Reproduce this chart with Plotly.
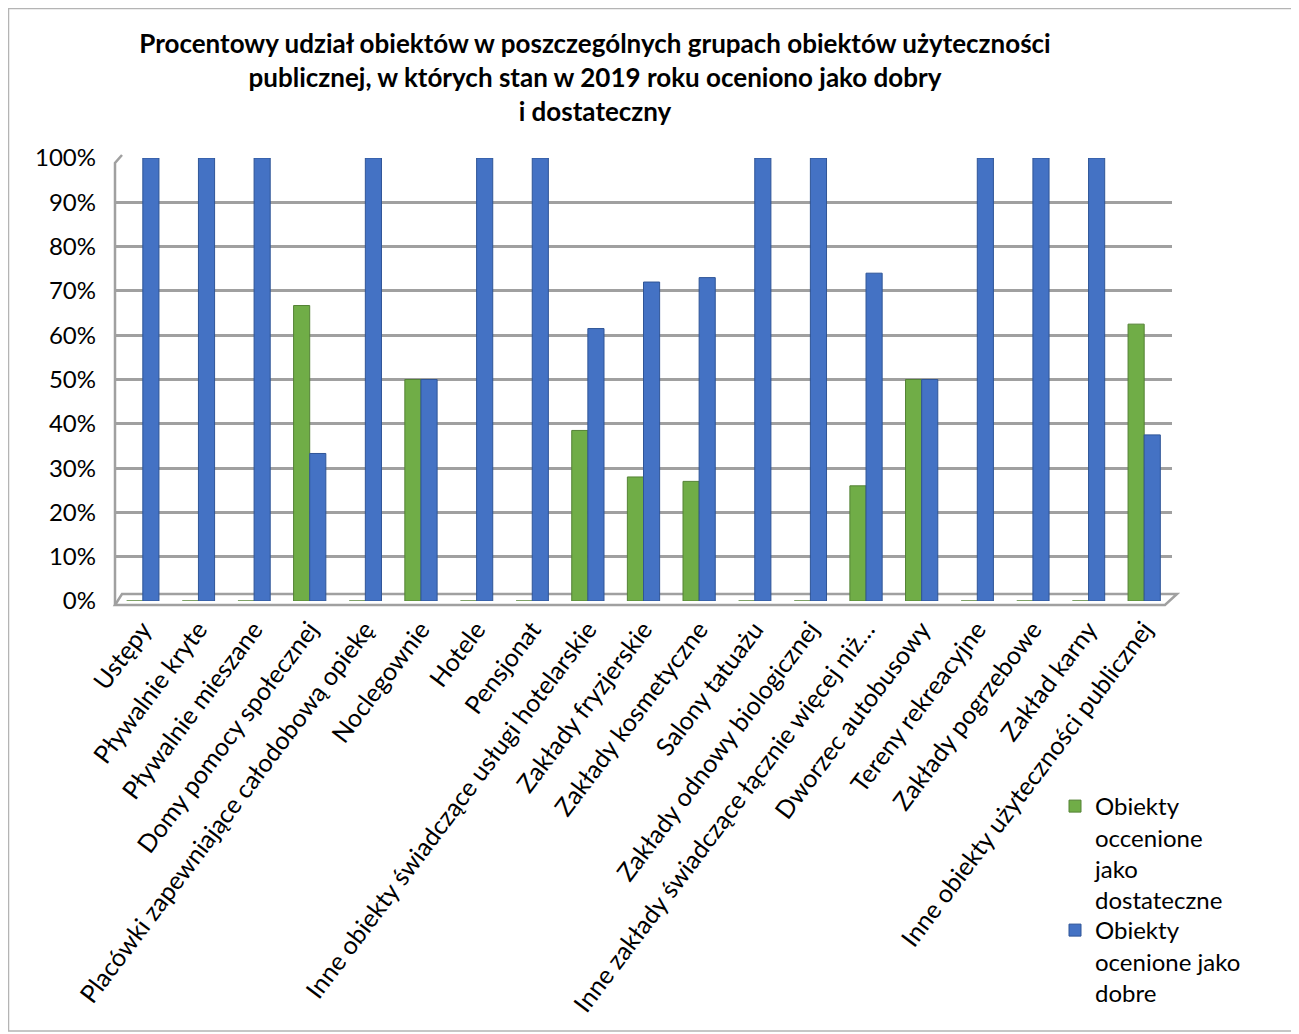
import plotly.graph_objects as go

categories = [
    "Ustępy", "Pływalnie kryte", "Pływalnie mieszane", "Domy pomocy społecznej",
    "Placówki zapewniające całodobową opiekę", "Noclegownie", "Hotele", "Pensjonat",
    "Inne obiekty świadczące usługi hotelarskie", "Zakłady fryzjerskie",
    "Zakłady kosmetyczne", "Salony tatuażu", "Zakłady odnowy biologicznej",
    "Inne zakłady świadczące łącznie więcej niż…", "Dworzec autobusowy",
    "Tereny rekreacyjne", "Zakłady pogrzebowe", "Zakład karny",
    "Inne obiekty użyteczności publicznej",
]
dostateczne = [0, 0, 0, 66.7, 0, 50, 0, 0, 38.5, 28, 27, 0, 0, 26, 50, 0, 0, 0, 62.5]
dobre = [100, 100, 100, 33.3, 100, 50, 100, 100, 61.5, 72, 73, 100, 100, 74, 50, 100, 100, 100, 37.5]
y_ticks = list(range(0, 101, 10))
y_tick_labels = [f"{v}%" for v in y_ticks]

name_dost = "Obiekty<br>occenione<br>jako<br>dostateczne"
name_dobre = "Obiekty<br>ocenione jako<br>dobre"
title_text = ("<b>Procentowy udział obiektów w poszczególnych grupach obiektów użyteczności<br>"
              "publicznej, w których stan w 2019 roku oceniono jako dobry<br>"
              "i dostateczny</b>")

FONT = "Lato, Open Sans, sans-serif"
OFF = 8  # page body margin
W, H = 1291, 1026
L, R, T, B = 107, 127, 150, 433
pw, ph = W - L - R, H - T - B


def px_x(x):  # reference screen px -> paper
    return (x - OFF - L) / pw


def px_y(y):
    return (H - B - (y - OFF)) / ph


fig = go.Figure()
fig.add_trace(go.Bar(
    x=categories, y=dostateczne, name=name_dost, legend="legend",
    marker=dict(color="#70ad47", line=dict(color="#548235", width=1)),
))
fig.add_trace(go.Bar(
    x=categories, y=dobre, name=name_dobre, legend="legend2",
    marker=dict(color="#4472c4", line=dict(color="#2f5597", width=1)),
))

legend_style = dict(xanchor="left", yanchor="top", font=dict(family=FONT, size=24),
                    valign="top", itemwidth=30, bgcolor="rgba(0,0,0,0)")

fig.update_layout(
    width=W, height=H,
    margin=dict(l=L, r=R, t=T, b=B, autoexpand=False),
    paper_bgcolor="white", plot_bgcolor="white",
    barmode="group", bargap=0.42, bargroupgap=0,
    font=dict(family=FONT, size=24, color="#000000"),
    title=dict(text=title_text, x=(595 - OFF) / W, xanchor="center", xref="container",
               y=1 - 45 / H, yanchor="top", yref="container",
               font=dict(family=FONT, size=26, color="#000000")),
    legend=dict(x=px_x(1055), y=px_y(784), **legend_style),
    legend2=dict(x=px_x(1055), y=px_y(908), **legend_style),
    showlegend=True,
)
fig.update_xaxes(
    tickangle=-53, showgrid=False, showline=False, automargin=False,
    ticks="", tickfont=dict(family=FONT, size=25), ticklabelstandoff=8,
)
fig.update_yaxes(
    range=[0, 100], tickvals=y_ticks, ticktext=y_tick_labels,
    showgrid=True, gridcolor="#a0a0a0", gridwidth=2.5,
    showline=False, automargin=False,
    ticks="", tickfont=dict(family=FONT, size=24), ticklabelstandoff=18,
    zeroline=False,
)

GRID = "#a0a0a0"
# floor of the 3D plot area
fig.add_shape(type="path", xref="paper", yref="paper",
              path=(f"M {px_x(115)},{px_y(605)} L {px_x(1165)},{px_y(605)} "
                    f"L {px_x(1177)},{px_y(594)} L {px_x(122)},{px_y(594)} Z"),
              line=dict(color=GRID, width=2.5), fillcolor="white", layer="below")
# left wall edge
fig.add_shape(type="path", xref="paper", yref="paper",
              path=(f"M {px_x(115)},{px_y(605)} L {px_x(115)},{px_y(163)} "
                    f"L {px_x(122)},{px_y(155)}"),
              line=dict(color=GRID, width=2.5), layer="below")
# chart border
fig.add_shape(type="rect", xref="paper", yref="paper",
              x0=px_x(8.5), x1=px_x(1294), y0=px_y(1031), y1=px_y(8.5),
              line=dict(color="#b4b4b4", width=1.5), layer="below")

fig.write_html("out.html")
